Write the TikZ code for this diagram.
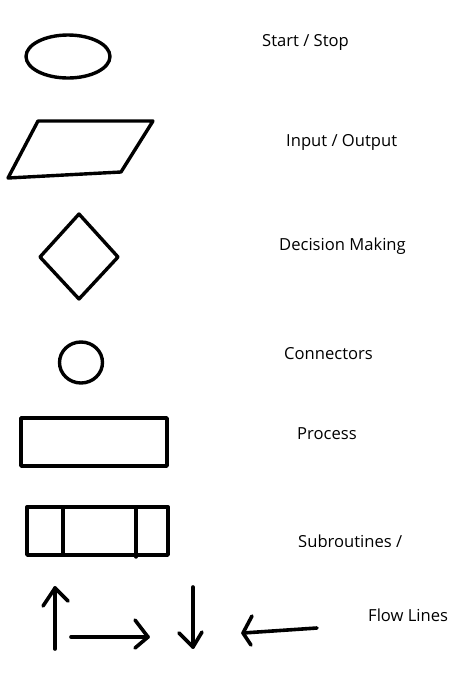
\documentclass[tikz,border=0pt]{standalone}
\usepackage{fontspec}
\setmainfont{Open Sans}
\begin{document}
\begin{tikzpicture}[x=1pt,y=-1pt,
  symb/.style={line width=3.4pt,line join=round,line cap=round},
  flow/.style={line width=3.6pt,line join=round,line cap=round},
  lbl/.style={anchor=base west,inner sep=0pt,font=\fontsize{16.6}{18}\selectfont}]
\useasboundingbox[fill=white] (0,0) rectangle (474,673);
% Start / Stop
\draw[symb] (68,56.5) ellipse [x radius=42, y radius=21.5];
\node[lbl] (t1) at (262,46) {Start / Stop};
% Input / Output
\draw[symb] (38,121) -- (153,121) -- (121,172) -- (8,178) -- cycle;
\node[lbl] (t2) at (286,146) {Input / Output};
% Decision
\draw[symb] (79,214) -- (118,257) -- (79,299) -- (40,257) -- cycle;
\node[lbl] (t3) at (279,250) {Decision Making};
% Connector
\draw[symb] (81,362.5) ellipse [x radius=21.5, y radius=20.5];
\node[lbl] (t4) at (284,359) {Connectors};
% Process
\draw[symb] (21,418) rectangle (167,466);
\node[lbl] (t5) at (297,439.5) {Process};
% Subroutines
\draw[symb] (27,507) rectangle (168,555);
\draw[symb] (63,507) -- (63,555);
\draw[symb] (136,507) -- (136,557);
\begin{scope}
\clip (280,520) rectangle (420,546.5);
\node[lbl] (t6) at (298,547.5) {Subroutines /};
\end{scope}
% Flow lines
\coordinate (ua) at (55,649); \coordinate (ub) at (55,588);
\draw[flow] (ua) -- (ub);
\draw[flow] (43,606) -- (ub) -- (68,601);
\coordinate (ra) at (71,637); \coordinate (rb) at (148,637);
\draw[flow] (ra) -- (rb);
\draw[flow] (135,620) -- (rb) -- (135,648);
\coordinate (da) at (193,587); \coordinate (db) at (193,647);
\draw[flow] (da) -- (db);
\draw[flow] (179,633) -- (db) -- (202,632);
\coordinate (la) at (317,628); \coordinate (lb) at (243,633);
\draw[flow] (la) -- (lb);
\draw[flow] (252,616) -- (lb) -- (251,645);
\node[lbl] (t7) at (368,621) {Flow Lines};
\end{tikzpicture}
\end{document}
